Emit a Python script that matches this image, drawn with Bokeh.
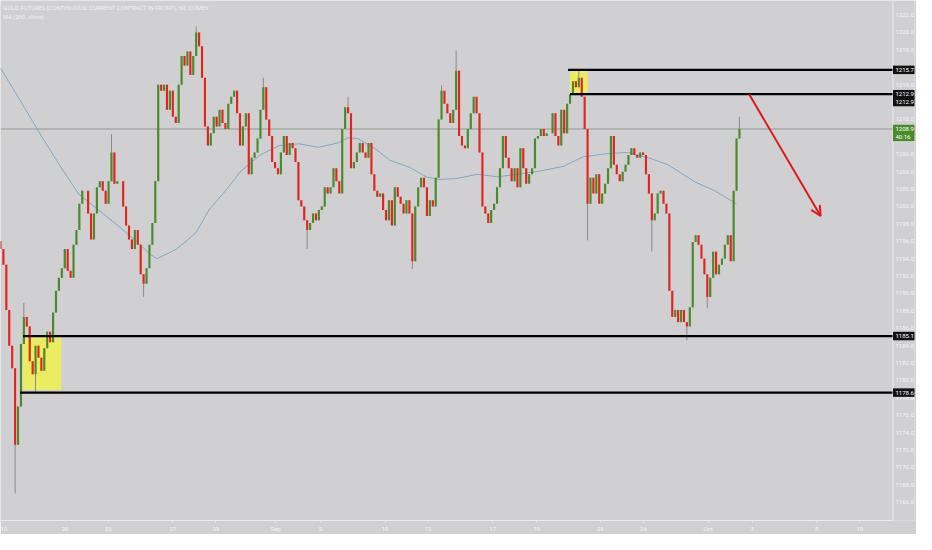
import numpy as np
from bokeh.plotting import figure
from bokeh.models import Range1d, FixedTicker, Label, Span, Arrow, OpenHead, NumeralTickFormatter, ColumnDataSource
from bokeh.core.properties import value
from bokeh.embed import file_html
from bokeh.resources import INLINE

# ---------------- data ----------------
title_line1 = "GOLD FUTURES (CONTINUOUS: CURRENT CONTRACT IN FRONT), 60, COMEX"
title_line2 = "MA (200, close)"

first_open = 1196.0
closes = [
    1195.1, 1193.3, 1188.1, 1184.0, 1181.4, 1172.6, 1177.0, 1184.2, 1187.3, 1186.2,
    1182.2, 1180.7, 1184.0, 1182.6, 1181.1, 1183.7, 1185.6, 1184.4, 1187.8, 1190.3,
    1191.8, 1192.9, 1195.1, 1192.6, 1191.8, 1195.6, 1197.3, 1200.3, 1201.8, 1201.8,
    1199.2, 1196.2, 1199.2, 1202.2, 1202.9, 1201.8, 1200.3, 1202.9, 1206.2, 1202.6,
    1202.9, 1202.9, 1200.0, 1197.8, 1196.2, 1195.1, 1197.3, 1195.6, 1192.2, 1191.1,
    1192.9, 1195.6, 1198.1, 1202.9, 1214.0, 1213.3, 1214.0, 1211.1, 1213.3, 1210.3,
    1209.6, 1214.0, 1217.3, 1216.2, 1217.8, 1215.1, 1217.3, 1220.0, 1218.4, 1214.8,
    1209.2, 1207.0, 1208.4, 1210.3, 1209.2, 1211.1, 1209.6,
    1208.9, 1211.8, 1212.6, 1213.3, 1210.7, 1207.0, 1209.2, 1210.7, 1203.7, 1205.6,
    1206.2, 1207.8, 1211.1, 1213.7, 1210.0, 1208.1, 1205.1, 1204.4, 1203.7, 1206.2,
    1208.1, 1205.9, 1207.3, 1206.7, 1205.1, 1200.7, 1200.0, 1198.4, 1197.3, 1198.1,
    1199.2, 1198.4, 1199.6, 1200.0, 1202.2, 1201.5, 1202.2, 1204.4, 1202.9, 1201.5,
    1208.9, 1211.4, 1210.7, 1204.4, 1205.1, 1206.2, 1207.3, 1206.2, 1205.6, 1207.3,
    1203.7, 1201.8, 1201.1, 1201.5, 1199.6, 1198.4, 1200.7, 1197.8, 1202.2, 1201.1,
    1200.3, 1199.2, 1200.7, 1199.2, 1193.7, 1200.0, 1202.2, 1203.3, 1202.2, 1198.9,
    1200.7, 1200.0, 1203.3, 1210.0, 1213.3, 1211.8, 1210.7, 1209.6, 1211.1,
    1215.6, 1208.1, 1207.0, 1206.7, 1208.9, 1210.7, 1212.6, 1210.7, 1206.2, 1200.0,
    1199.2, 1198.1, 1199.6, 1200.3, 1202.2, 1204.4, 1208.1, 1205.6, 1204.4, 1202.9,
    1204.4, 1202.2, 1206.7, 1204.4, 1202.6, 1203.7, 1204.4, 1207.8, 1208.1, 1208.9,
    1208.1, 1208.4, 1208.4, 1210.7, 1208.1, 1207.0, 1211.1, 1208.4, 1211.8, 1212.9,
    1214.4, 1213.7, 1214.8, 1212.6, 1208.9, 1200.3, 1203.3, 1201.5, 1203.7, 1200.3,
    1201.5, 1202.6, 1204.4, 1208.1, 1204.8, 1203.7, 1202.9, 1204.0, 1204.8, 1205.9,
    1206.7, 1205.9, 1205.6, 1206.2, 1205.9, 1203.7, 1201.5, 1198.4, 1199.2, 1201.5,
    1201.8, 1200.3, 1199.2,
    1190.3, 1187.3, 1188.1, 1186.7, 1188.1, 1186.7, 1186.2, 1188.4, 1195.9, 1196.7,
    1195.6, 1194.0, 1192.2, 1189.6, 1191.8, 1194.8, 1192.2, 1193.3, 1194.0, 1195.6,
    1196.7, 1193.7, 1201.8, 1207.8, 1208.9,
]
last_bar_day = 34.32          # trading days after Aug 15 of the last hourly bar

spike_high_idx = [8, 38, 67, 90, 119, 151, 156, 198, 253]
spike_high_val = [1188.9, 1208.3, 1220.7, 1214.8, 1212.6, 1213.9, 1217.9, 1215.7, 1210.3]
spike_low_idx = [5, 12, 49, 105, 141, 201, 223, 235, 242]
spike_low_val = [1167.0, 1178.6, 1189.6, 1195.1, 1192.8, 1196.1, 1194.8, 1184.6, 1188.3]

ma_day = [0.0, 0.91, 1.82, 2.73, 3.64, 4.55, 5.45, 6.36, 6.95, 7.27, 8.18, 9.09, 9.68,
          10.45, 11.14, 12.05, 12.95, 13.86, 14.77, 15.68, 16.14, 16.59, 17.36, 18.09,
          19.0, 19.77, 20.36, 21.14, 22.18, 23.09, 24.91, 26.14, 27.05, 28.27, 29.18,
          30.09, 31.0, 32.27, 33.18, 34.18]
ma_val = [1215.9, 1212.2, 1208.4, 1204.8, 1201.4, 1199.6, 1197.8, 1195.9, 1194.5, 1194.0,
          1195.1, 1197.0, 1199.6, 1201.8, 1204.0, 1205.9, 1207.0, 1207.2, 1206.8, 1207.3,
          1207.9, 1207.8, 1206.7, 1205.3, 1204.5, 1203.4, 1203.1, 1203.2, 1203.7, 1203.4,
          1204.0, 1204.6, 1205.7, 1206.1, 1206.2, 1205.6, 1204.8, 1202.8, 1201.8, 1200.3]

last_price = 1208.9
countdown = "40:16"

level_price = [1215.7, 1212.9, 1185.1, 1178.6]
level_start_day = [26.36, 26.45, 1.05, 0.91]

box_left = [1.05, 26.45]
box_right = [2.82, 27.27]
box_top = [1185.1, 1215.7]
box_bottom = [1178.9, 1212.9]

arrow_from = (34.77, 1212.9)
arrow_to = (38.09, 1198.9)

tag_text = ["1215.7", "1212.9", "1212.9", "1208.9", countdown, "1185.1", "1178.6"]
tag_price = [1215.7, 1212.9, 1212.0, 1208.9, 1208.0, 1185.1, 1178.6]
tag_color = ["#111111", "#111111", "#111111", "#4a8a2a", "#4a8a2a", "#111111", "#111111"]

tick_days = [0, 3, 5, 8, 10, 12.77, 14.86, 17.86, 19.86, 22.86, 24.91, 27.86, 29.86,
             32.86, 34.91, 37.91, 39.91]
tick_labels = ["15", "20", "22", "27", "29", "Sep", "5", "10", "12", "17", "19", "24",
               "26", "Oct", "3", "8", "10"]
price_ticks = list(range(1166, 1223, 2))

# ---------------- build ----------------
X_END = 41.45          # right edge of the price pane (days)
STRIP = 1.0            # width of the price-scale strip (days)
Y_LO, Y_HI = 1163.9, 1223.67
BG = "#d0d0d2"
TXT = "#f4f4f4"
AXC = "#ececec"

n = len(closes)
days = np.linspace(0, last_bar_day, n)
c = np.array(closes)
o = np.concatenate([[first_open], c[:-1]])
hi = np.maximum(o, c)
lo = np.minimum(o, c)
for i, v in zip(spike_high_idx, spike_high_val):
    hi[i] = max(hi[i], v)
for i, v in zip(spike_low_idx, spike_low_val):
    lo[i] = min(lo[i], v)
up = c >= o
colors = np.where(up, "#4a8a2a", "#e3241c")

src = ColumnDataSource(dict(x=days, o=o, c=c, hi=hi, lo=lo, col=colors))

p = figure(width=916, height=534, output_backend="svg", toolbar_location=None,
           x_range=Range1d(0, X_END + STRIP), y_range=Range1d(Y_LO, Y_HI),
           y_axis_location="right", min_border_left=0, min_border_top=0,
           min_border_right=0, min_border_bottom=0)
p.background_fill_color = BG
p.border_fill_color = BG
p.outline_line_color = None
p.grid.visible = False

# yellow zones
p.quad(left=box_left, right=box_right, top=box_top, bottom=box_bottom,
       fill_color="#eeee55", fill_alpha=0.9, line_color=None)

# current price line
p.segment(x0=[0], x1=[X_END], y0=[last_price], y1=[last_price], line_color="#8f9a8c", line_width=1)

# MA
p.line(ma_day, ma_val, line_color="#7fa8c4", line_width=1)

# candles
p.segment(x0="x", x1="x", y0="lo", y1="hi", source=src, line_color="#8a8a8a", line_width=1)
p.vbar(x="x", width=0.1, top="o", bottom="c", source=src, fill_color="col", line_color=None)

# levels
p.segment(x0=level_start_day, x1=[X_END] * len(level_price), y0=level_price, y1=level_price,
          line_color="black", line_width=2.3)

# arrow
p.add_layout(Arrow(end=OpenHead(size=10, line_color="#e01818", line_width=2),
                   x_start=arrow_from[0], y_start=arrow_from[1],
                   x_end=arrow_to[0], y_end=arrow_to[1],
                   line_color="#e01818", line_width=2))

# price-scale strip separator
p.add_layout(Span(location=X_END, dimension="height", line_color=AXC, line_width=1))

# axes
p.yaxis.ticker = FixedTicker(ticks=price_ticks)
p.yaxis.formatter = NumeralTickFormatter(format="0.0")
p.yaxis.axis_line_color = None
p.yaxis.major_tick_line_color = None
p.yaxis.major_tick_out = 0
p.yaxis.major_tick_in = 0
p.yaxis.major_label_standoff = -19
p.xaxis.ticker = FixedTicker(ticks=tick_days)
p.xaxis.major_label_overrides = {t: l for t, l in zip(tick_days, tick_labels)}
p.xaxis.bounds = (0, X_END)
p.xaxis.axis_line_color = AXC
p.xaxis.major_tick_line_color = AXC
p.xaxis.major_tick_out = 2
p.xaxis.major_tick_in = 0
p.xaxis.major_label_standoff = 2
for ax in (p.xaxis[0], p.yaxis[0]):
    ax.minor_tick_line_color = None
    ax.major_label_text_color = TXT
    ax.major_label_text_font = "Roboto"
    ax.major_label_text_font_size = "6px"

# price tags on the price scale
tsrc = ColumnDataSource(dict(y=tag_price, t=tag_text, col=tag_color))
r1 = p.rect(x=X_END + STRIP / 2, y="y", width=STRIP, height=8.5, height_units="screen",
            source=tsrc, fill_color="col", line_color=None)
r2 = p.text(x=X_END, y="y", text="t", x_offset=2.5, source=tsrc, text_color="white",
            text_font=value("Roboto"), text_font_size="6px", text_baseline="middle",
            text_align="left")
r1.level = "overlay"
r2.level = "overlay"

# title
p.add_layout(Label(x=0.12, y=Y_HI, y_offset=-3, text=title_line1,
                   text_font="Open Sans", text_font_size="5.8px", text_color=TXT,
                   text_baseline="top"))
p.add_layout(Label(x=0.12, y=Y_HI, y_offset=-12, text=title_line2,
                   text_font="Open Sans", text_font_size="5.8px", text_color=TXT,
                   text_baseline="top"))

open("out.html", "w").write(file_html(p, INLINE))
